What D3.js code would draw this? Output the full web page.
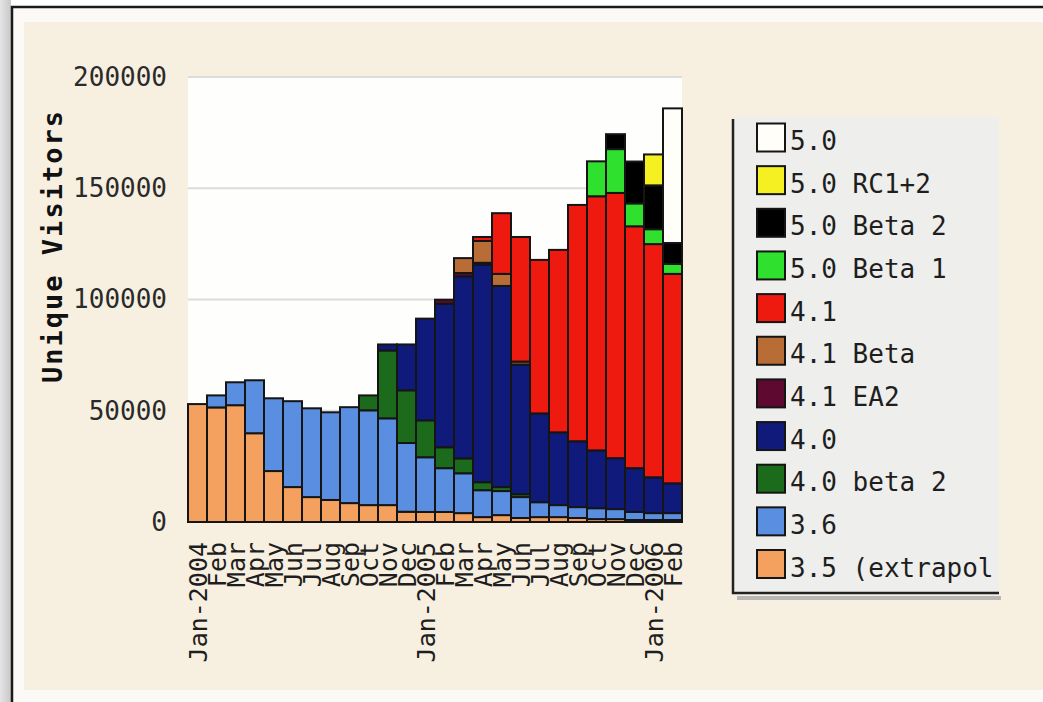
<!DOCTYPE html>
<html>
<head>
<meta charset="utf-8">
<script src="https://cdn.jsdelivr.net/npm/d3@7"></script>
<style>
  html, body { margin: 0; padding: 0; background: #ffffff; }
  svg { display: block; }
  text { font-family: "DejaVu Sans Mono", "Liberation Mono", monospace; }
</style>
</head>
<body>
<svg id="chart" width="1043" height="702"></svg>
<script>
// ---- data ----
const months = ["Jan-2004","Feb","Mar","Apr","May","Jun","Jul","Aug","Sep","Oct","Nov","Dec",
                "Jan-2005","Feb","Mar","Apr","May","Jun","Jul","Aug","Sep","Oct","Nov","Dec",
                "Jan-2006","Feb"];
const seriesNames = ["3.5 (extrapol","3.6","4.0 beta 2","4.0","4.1 EA2","4.1 Beta","4.1",
                     "5.0 Beta 1","5.0 Beta 2","5.0 RC1+2","5.0"];
const seriesColors = ["#f4a05e","#5a8ee0","#1c6a1c","#0f1a7a","#5e0a30","#b86c36","#ee1a10",
                      "#2fe02f","#000000","#f5f022","#fffef8"];
const v35   = [53000,51500,52500,39900,22900,15700,11200,9900,8500,7600,7600,4600,4500,4500,4000,2200,3100,1800,2200,2200,1800,1300,1300,900,900,900];
const v36   = [0,5400,10300,23800,32700,38600,39900,39400,43100,42600,39000,30900,24600,19700,17900,12100,10800,9400,6700,5400,4900,4900,4500,3600,3100,3100];
const v40b2 = [0,0,0,0,0,0,0,0,0,6700,30500,23700,16600,9400,6700,3600,1800,1300,0,0,0,0,0,0,0,0];
const v40   = [0,0,0,0,0,0,0,0,0,0,2700,20600,45700,64500,81800,97800,90400,58300,39900,32700,29600,26000,22900,19700,16100,13400];
const v41ea2= [0,0,0,0,0,0,0,0,0,0,0,0,0,1800,1500,800,0,0,0,0,0,0,0,0,0,0];
const v41b  = [0,0,0,0,0,0,0,0,0,0,0,0,0,0,6700,9800,5400,1300,0,0,0,0,0,0,0,0];
const v41   = [0,0,0,0,0,0,0,0,0,0,0,0,0,0,0,1800,27300,56000,69000,82000,106200,114200,119200,108700,104800,94100];
const v50b1 = [0,0,0,0,0,0,0,0,0,0,0,0,0,0,0,0,0,0,0,0,0,15700,19700,10300,6700,4500];
const v50b2 = [0,0,0,0,0,0,0,0,0,0,0,0,0,0,0,0,0,0,0,0,0,0,6700,18800,19700,9400];
const v50rc = [0,0,0,0,0,0,0,0,0,0,0,0,0,0,0,0,0,0,0,0,0,0,0,0,13900,0];
const v50   = [0,0,0,0,0,0,0,0,0,0,0,0,0,0,0,0,0,0,0,0,0,0,0,0,0,60500];
const yTicks = [0,50000,100000,150000,200000];
const yTitle = "Unique Visitors";

// ---- build table ----
const seriesValues = [v35,v36,v40b2,v40,v41ea2,v41b,v41,v50b1,v50b2,v50rc,v50];
const table = months.map((m,i) => {
  const row = {idx: i, month: m};
  seriesNames.forEach((s,k) => row[s] = seriesValues[k][i]);
  return row;
});

const svg = d3.select("#chart");

// ---- background / frame ----
const defs = svg.append("defs");
const lg = defs.append("linearGradient").attr("id","leftShade").attr("x1","0").attr("x2","1");
lg.append("stop").attr("offset","0").attr("stop-color","#e4e4e4");
lg.append("stop").attr("offset","1").attr("stop-color","#c8c8c8");
svg.append("rect").attr("x",0).attr("y",0).attr("width",11).attr("height",702).attr("fill","url(#leftShade)");
svg.append("rect").attr("x",12).attr("y",7).attr("width",1040).attr("height",705).attr("fill","#fbfaf6");
svg.append("rect").attr("x",24).attr("y",22).attr("width",1019).attr("height",668).attr("fill","#f7f0e1");
svg.append("path").attr("d","M12,702 L12,7 L1043,7").attr("fill","none").attr("stroke","#1a1a1a").attr("stroke-width",2.5);

// ---- scales ----
const x = d3.scaleBand().domain(d3.range(months.length)).range([188, 682]).padding(0);
const y = d3.scaleLinear().domain([0, 200000]).range([522, 77]);

// plot background
svg.append("rect").attr("x",x.range()[0]).attr("y",y(200000))
  .attr("width",x.range()[1]-x.range()[0]).attr("height",y(0)-y(200000)).attr("fill","#fefefd");

// gridlines
svg.append("g").selectAll("line").data(yTicks.filter(d => d > 0)).join("line")
  .attr("x1",x.range()[0]).attr("x2",x.range()[1])
  .attr("y1",d => y(d)).attr("y2",d => y(d))
  .attr("stroke","#dcdcdc").attr("stroke-width",2);

// ---- stacked bars ----
const stack = d3.stack().keys(seriesNames);
const layers = stack(table);
const gBars = svg.append("g");
layers.forEach((layer,k) => {
  gBars.append("g").attr("fill",seriesColors[k])
    .selectAll("rect").data(layer.filter(d => d[1]-d[0] > 0)).join("rect")
    .attr("x",d => x(d.data.idx))
    .attr("y",d => y(d[1]))
    .attr("width",x.bandwidth())
    .attr("height",d => y(d[0]) - y(d[1]))
    .attr("stroke","#151515").attr("stroke-width",2);
});

// ---- y axis ----
const yAxis = d3.axisLeft(y).tickValues(yTicks).tickSize(0).tickPadding(21).tickFormat(d3.format("d"));
const gy = svg.append("g").attr("transform",`translate(${x.range()[0]},0)`).call(yAxis);
gy.select(".domain").remove();
gy.selectAll("text").attr("font-family","DejaVu Sans Mono").attr("font-size",26).attr("fill","#2a2a2a");

// y title
svg.append("text")
  .attr("transform","translate(62,246) rotate(-90)")
  .attr("text-anchor","middle")
  .attr("font-size",27).attr("font-weight","bold").attr("letter-spacing",2)
  .attr("fill","#111")
  .text(yTitle);

// ---- x axis ----
const xAxis = d3.axisBottom(x).tickSize(0).tickFormat(i => months[i]);
const gx = svg.append("g").attr("transform",`translate(0,${y(0)})`).call(xAxis);
gx.select(".domain").remove();
gx.selectAll("text")
  .attr("font-family","DejaVu Sans Mono").attr("font-size",25).attr("fill","#1e1e1e")
  .attr("text-anchor","end")
  .attr("x",0).attr("y",0)
  .attr("dy","0.36em")
  .attr("transform","translate(0,20) rotate(-90)");

// ---- legend ----
const legendItems = seriesNames.map((s,k) => ({name: s, color: seriesColors[k]})).reverse();
const ly = d3.scalePoint().domain(d3.range(legendItems.length)).range([137.5, 564]);
const gl = svg.append("g");
gl.append("rect").attr("x",737).attr("y",596).attr("width",264).attr("height",4).attr("fill","#b8b8b8");
gl.append("rect").attr("x",732).attr("y",117).attr("width",267).attr("height",476).attr("fill","#eeeeec");
gl.append("path").attr("d","M733,119 L733,593 L999,593").attr("fill","none").attr("stroke","#222").attr("stroke-width",2.5);
const items = gl.selectAll("g.item").data(legendItems).join("g").attr("class","item")
  .attr("transform",(d,i) => `translate(0,${ly(i)})`);
items.append("rect").attr("x",757).attr("y",-14).attr("width",28).attr("height",28)
  .attr("fill",d => d.color).attr("stroke","#151515").attr("stroke-width",2);
items.append("text").attr("x",790).attr("y",12.5)
  .attr("font-size",26).attr("fill","#1e1e1e")
  .text(d => d.name);
</script>
</body>
</html>
